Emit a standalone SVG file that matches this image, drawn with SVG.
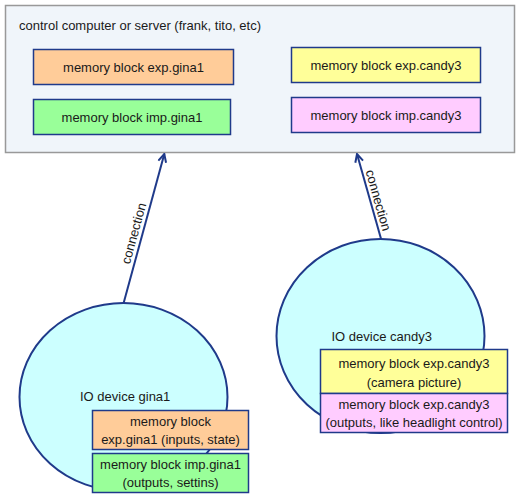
<svg xmlns="http://www.w3.org/2000/svg" width="520" height="498" viewBox="0 0 520 498">
<style>
text{font-family:"Liberation Sans",Arial,sans-serif;font-size:13px;fill:#1a1a1a}
.c{text-anchor:middle}
.box{stroke:#1f3a8a;stroke-width:1.5}
.ell{fill:#ccffff;stroke:#1f3a8a;stroke-width:2}
.conn{stroke:#1f3a8a;stroke-width:2;fill:none}
</style>
<defs>
<marker id="arr" viewBox="0 0 10 10" refX="9" refY="5" markerWidth="10" markerHeight="10" markerUnits="userSpaceOnUse" orient="auto">
<path d="M1,1 L9,5 L1,9" fill="none" stroke="#1f3a8a" stroke-width="2"/>
</marker>
</defs>
<g id="server">
<rect x="5.5" y="5.5" width="509" height="147" fill="#f0f5fa" stroke="#999999" stroke-width="1.5"/>
<text x="19" y="30">control computer or server (frank, tito, etc)</text>
</g>
<g id="srv-exp-gina1">
<rect class="box" x="33.5" y="49.5" width="200" height="35" fill="#ffcc99"/>
<text class="c" x="133.5" y="71.5">memory block exp.gina1</text>
</g>
<g id="srv-imp-gina1">
<rect class="box" x="33.5" y="99.5" width="197" height="35" fill="#99ff99"/>
<text class="c" x="132" y="121.5">memory block imp.gina1</text>
</g>
<g id="srv-exp-candy3">
<rect class="box" x="291.5" y="47.5" width="189" height="35" fill="#ffff99"/>
<text class="c" x="386" y="69.5">memory block exp.candy3</text>
</g>
<g id="srv-imp-candy3">
<rect class="box" x="291.5" y="97.5" width="189" height="35" fill="#ffccff"/>
<text class="c" x="386" y="119.5">memory block imp.candy3</text>
</g>
<g id="connectors">
<line class="conn" x1="123.5" y1="303.5" x2="164.3" y2="154" marker-end="url(#arr)"/>
<line class="conn" x1="381" y1="238.7" x2="357" y2="154" marker-end="url(#arr)"/>
<text class="c" transform="translate(138,234.5) rotate(-74.7)">connection</text>
<text class="c" transform="translate(374,201.5) rotate(74.1)">connection</text>
</g>
<g id="io-gina1">
<ellipse class="ell" cx="123.5" cy="397" rx="104" ry="94"/>
<text x="80" y="401">IO device gina1</text>
</g>
<g id="gina1-exp">
<rect class="box" x="92.5" y="410.5" width="156" height="39" fill="#ffcc99"/>
<text class="c" x="170.5" y="425.5">memory block</text>
<text class="c" x="170.5" y="444">exp.gina1 (inputs, state)</text>
</g>
<g id="gina1-imp">
<rect class="box" x="92.5" y="453.5" width="156" height="39" fill="#99ff99"/>
<text class="c" x="170.5" y="468.5">memory block imp.gina1</text>
<text class="c" x="170.5" y="487">(outputs, settins)</text>
</g>
<g id="io-candy3">
<ellipse class="ell" cx="380.5" cy="336" rx="104" ry="97"/>
<text x="331.5" y="341">IO device candy3</text>
</g>
<g id="candy3-exp">
<rect class="box" x="320.5" y="349.5" width="187" height="44" fill="#ffff99"/>
<text class="c" x="414" y="368">memory block exp.candy3</text>
<text class="c" x="414" y="386.5">(camera picture)</text>
</g>
<g id="candy3-imp">
<rect class="box" x="320.5" y="393.5" width="187" height="39" fill="#ffccff"/>
<text class="c" x="414" y="408.5">memory block exp.candy3</text>
<text class="c" x="414" y="427">(outputs, like headlight control)</text>
</g>
</svg>
